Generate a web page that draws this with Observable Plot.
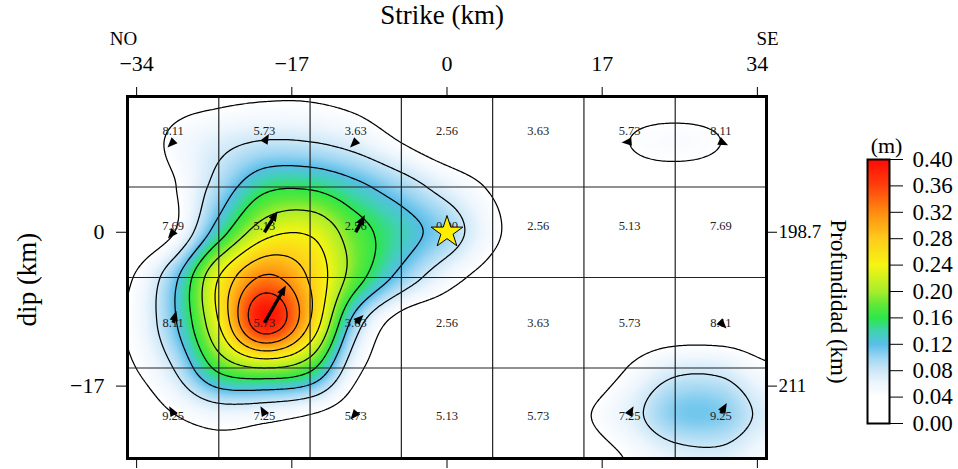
<!DOCTYPE html>
<html><head><meta charset="utf-8">
<script src="https://cdn.jsdelivr.net/npm/d3@7"></script>
<script src="https://cdn.jsdelivr.net/npm/@observablehq/plot@0.6"></script>
<style>
html,body{margin:0;padding:0;background:#fff;}
#wrap{position:relative;width:958px;height:469px;overflow:hidden;background:#fff;}
#wrap svg{position:absolute;}
</style></head><body><div id="wrap"></div>
<script>
// ---- slip (m) read at 5 km nodes: strike -35..35, one array per dip row (15 .. -25 km)
const nodeStrike = [-35,-30,-25,-20,-15,-10,-5,0,5,10,15,20,25,30,35];
const nodeDip = [15,10,5,0,-5,-10,-15,-20,-25];
const slipDip15  = [0.000,0.025,0.033,0.037,0.037,0.030,0.015,0.005,0.000,0.000,0.005,0.020,0.025,0.020,0.005];
const slipDip10  = [0.010,0.047,0.069,0.082,0.080,0.066,0.039,0.015,0.005,0.000,0.010,0.040,0.047,0.040,0.012];
const slipDip5   = [0.010,0.037,0.095,0.150,0.155,0.130,0.099,0.065,0.035,0.010,0.005,0.020,0.025,0.020,0.008];
const slipDip0   = [0.010,0.038,0.141,0.225,0.235,0.177,0.137,0.100,0.048,0.015,0.005,0.008,0.012,0.012,0.008];
const slipDipM5  = [0.035,0.107,0.240,0.325,0.275,0.178,0.106,0.055,0.025,0.008,0.003,0.005,0.008,0.008,0.005];
const slipDipM10 = [0.042,0.112,0.240,0.390,0.278,0.100,0.022,0.010,0.003,0.000,0.003,0.010,0.012,0.012,0.012];
const slipDipM15 = [0.035,0.080,0.170,0.200,0.170,0.052,0.015,0.005,0.000,0.000,0.010,0.042,0.070,0.070,0.045];
const slipDipM20 = [0.015,0.040,0.060,0.055,0.042,0.020,0.005,0.000,0.000,0.005,0.035,0.067,0.108,0.108,0.070];
const slipDipM25 = [0.005,0.015,0.025,0.025,0.022,0.010,0.000,0.000,0.000,0.000,0.020,0.043,0.065,0.070,0.050];

// ---- subfaults (7 x 4) : centers, rupture-time labels, rake (deg, null = no arrow)
const colCenters = [-30,-20,-10,0,10,20,30];
const rowCenters = [10,0,-10,-20];
const labelsRow1 = ["8.11","5.73","3.63","2.56","3.63","5.73","8.11"];
const labelsRow2 = ["7.69","5.13","2.56","0.00","2.56","5.13","7.69"];
const labelsRow3 = ["8.11","5.73","3.63","2.56","3.63","5.73","8.11"];
const labelsRow4 = ["9.25","7.25","5.73","5.13","5.73","7.25","9.25"];
const rakeRow1 = [225, 30, 225, null, null, 265, 115];
const rakeRow2 = [220, 32, 28, 0, null, null, null];
const rakeRow3 = [15, 30, 45, null, null, null, 135];
const rakeRow4 = [330, 330, 220, null, null, 30, 30];

// ---- axes / legend
const strikeTicks = [-34,-17,0,17,34];
const dipTicks = [0,-17];
const depthLabels = ["198.7","211"];
const colEdges = [-25,-15,-5,5,15,25];
const rowEdges = [5,-5,-15];
const contourLevels = [0.04,0.08,0.12,0.16,0.20,0.24,0.28,0.32,0.36];
const cbarTicks = [0,0.04,0.08,0.12,0.16,0.20,0.24,0.28,0.32,0.36,0.40];
const hypoStrike = [0], hypoDip = [0];

const colorDomain = [0,0.04,0.06,0.08,0.10,0.12,0.14,0.16,0.18,0.20,0.24,0.28,0.32,0.36,0.40];
const colorRange = ["#ffffff","#ffffff","#eef6fd","#cde8f8","#9dd6f2","#58bee9","#3fd2b0","#2de84a","#5fe838","#a6ee2c","#f6f512","#ffcb1c","#ff8c10","#ff400c","#ff0a05"];

const slipRows = [slipDip15,slipDip10,slipDip5,slipDip0,slipDipM5,slipDipM10,slipDipM15,slipDipM20,slipDipM25];
const labelRows = [labelsRow1,labelsRow2,labelsRow3,labelsRow4];
const rakeRows = [rakeRow1,rakeRow2,rakeRow3,rakeRow4];

// smooth (Catmull-Rom bicubic) surface through the node values
const nx = nodeStrike.length, ny = nodeDip.length, step = 5;
function cr(p0,p1,p2,p3,t){return 0.5*((2*p1)+(-p0+p2)*t+(2*p0-5*p1+4*p2-p3)*t*t+(-p0+3*p1-3*p2+p3)*t*t*t);}
function node(i,j){return slipRows[Math.max(0,Math.min(ny-1,j))][Math.max(0,Math.min(nx-1,i))];}
function slip(x,y){
  const fx=(x-nodeStrike[0])/step, fy=(nodeDip[0]-y)/step;
  const i=Math.max(0,Math.min(nx-2,Math.floor(fx))), j=Math.max(0,Math.min(ny-2,Math.floor(fy)));
  const tx=fx-i, ty=fy-j;
  const r=[-1,0,1,2].map(dj=>cr(node(i-1,j+dj),node(i,j+dj),node(i+1,j+dj),node(i+2,j+dj),tx));
  return Math.max(0,cr(r[0],r[1],r[2],r[3],ty));
}

const cells=[];
rowCenters.forEach((y,r)=>colCenters.forEach((x,c)=>{
  cells.push({row:r,x,y,label:labelRows[r][c],rake:rakeRows[r][c],slip:slipRows[2*r+1][2*c+1]});
}));

const arrowShape={draw(ctx,l,r){
  const hl=10, hw=4.2, sw=1.7;
  const tip=-Math.max(l,8);
  const base=tip+hl;
  if(base<0){ctx.moveTo(-sw,0);ctx.lineTo(sw,0);ctx.lineTo(sw,base);ctx.lineTo(-sw,base);ctx.closePath();}
  ctx.moveTo(0,tip);ctx.lineTo(hw,base);ctx.lineTo(-hw,base);ctx.closePath();
}};

const colorOpts={type:"linear",domain:colorDomain,range:colorRange,interpolate:"rgb",clamp:true};
const serif="'Liberation Serif','Times New Roman',serif";

const main=Plot.plot({
  width:958,height:469,marginLeft:127,marginRight:192,marginTop:96,marginBottom:11,
  x:{domain:[-35,35]},y:{domain:[-25,15]},
  color:colorOpts,
  length:{domain:[0,0.4],range:[0,44]},
  style:{fontFamily:serif,background:"white",color:"black"},
  marks:[
    Plot.raster({fill:slip,x1:-35,x2:35,y1:-25,y2:15,pixelSize:2}),
    Plot.contour({value:slip,x1:-35,x2:35,y1:-25,y2:15,thresholds:contourLevels,stroke:"black",fill:"none",strokeWidth:1.25,pixelSize:2}),
    Plot.ruleX(colEdges,{stroke:"#222",strokeWidth:1.2}),
    Plot.ruleY(rowEdges,{stroke:"#222",strokeWidth:1.2}),
    Plot.text(cells.filter(d=>d.row===0),{x:"x",y:"y",text:"label",dy:-11,fontSize:12.5,fill:"#222"}),
    Plot.text(cells.filter(d=>d.row===1),{x:"x",y:"y",text:"label",dy:-6,fontSize:12.5,fill:"#222"}),
    Plot.text(cells.filter(d=>d.row===2),{x:"x",y:"y",text:"label",dy:0,fontSize:12.5,fill:"#222"}),
    Plot.text(cells.filter(d=>d.row===3),{x:"x",y:"y",text:"label",dy:3,fontSize:12.5,fill:"#222"}),
    Plot.vector(cells.filter(d=>d.rake!=null),{x:"x",y:"y",length:"slip",rotate:"rake",anchor:"start",shape:arrowShape,fill:"black",stroke:"none"}),
    Plot.dot(hypoStrike,{x:d=>d,y:(d,i)=>hypoDip[i],symbol:"star",r:10,fill:"#ffee00",stroke:"black",strokeWidth:1}),
    Plot.frame({stroke:"black",strokeWidth:3}),
    Plot.axisX(strikeTicks,{anchor:"top",tickSize:10,tickPadding:16,fontSize:22,label:null}),
    Plot.axisX(strikeTicks,{anchor:"bottom",tickSize:10,tickFormat:()=>"",label:null}),
    Plot.axisY(dipTicks,{anchor:"left",tickSize:11,tickPadding:12,fontSize:22,label:null}),
    Plot.axisY(dipTicks,{anchor:"right",tickSize:10,tickPadding:2,fontSize:19,tickFormat:(d,i)=>depthLabels[i],label:null}),
    Plot.text(["Strike (km)"],{frameAnchor:"top",dx:-5,dy:-81,fontSize:27,lineAnchor:"middle",textAnchor:"middle"}),
    Plot.text(["NO"],{frameAnchor:"top-left",dx:-4,dy:-58,fontSize:19,textAnchor:"middle",lineAnchor:"middle"}),
    Plot.text(["SE"],{frameAnchor:"top-right",dx:1,dy:-58,fontSize:19,textAnchor:"middle",lineAnchor:"middle"}),
    Plot.text(["dip (km)"],{frameAnchor:"left",dx:-100,dy:2,rotate:-90,fontSize:27,textAnchor:"middle",lineAnchor:"middle"}),
    Plot.text(["Profundidad (km)"],{frameAnchor:"right",dx:72,dy:24,rotate:90,fontSize:23,textAnchor:"middle",lineAnchor:"middle"})
  ]
});
main.style.left="0px";main.style.top="0px";

const cbar=Plot.plot({
  width:120,height:310,marginLeft:17,marginRight:81,marginTop:34,marginBottom:12,
  x:{domain:[0,1],axis:null},y:{domain:[0,0.4]},
  color:colorOpts,
  style:{fontFamily:serif,background:"transparent",color:"black"},
  marks:[
    Plot.raster({fill:(x,y)=>y,x1:0,x2:1,y1:0,y2:0.4,pixelSize:1}),
    Plot.frame({stroke:"black",strokeWidth:2}),
    Plot.axisY(cbarTicks,{anchor:"right",tickSize:13,tickPadding:10,fontSize:23,tickFormat:d3.format(".2f"),label:null}),
    Plot.text(["(m)"],{frameAnchor:"top",dx:8,dy:-14,fontSize:22,lineAnchor:"middle"})
  ]
});
cbar.style.left="850px";cbar.style.top="125px";

const wrap=document.getElementById("wrap");
wrap.appendChild(main);wrap.appendChild(cbar);
</script></body></html>
